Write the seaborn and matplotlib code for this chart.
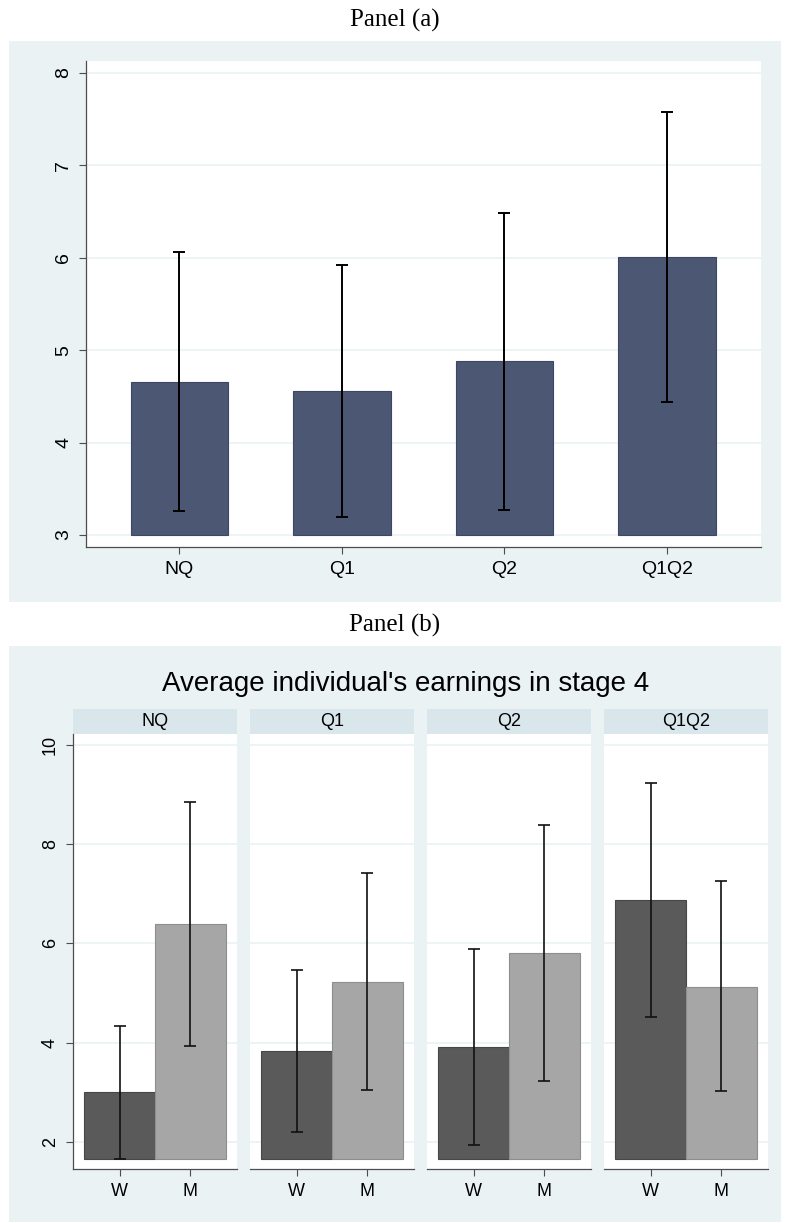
import numpy as np
import pandas as pd
import matplotlib
matplotlib.use("Agg")
import matplotlib.pyplot as plt
from matplotlib.patches import Rectangle
import seaborn as sns

# panel (a): overall average by treatment
cats_a = ["NQ", "Q1", "Q2", "Q1Q2"]
mean_a = [4.66, 4.56, 4.88, 6.01]
lo_a = [3.26, 3.20, 3.27, 4.44]
hi_a = [6.06, 5.92, 6.48, 7.58]

# panel (b): by treatment and gender
treats = ["NQ", "Q1", "Q2", "Q1Q2"]
genders = ["W", "M"]
mean_w = [3.00, 3.84, 3.92, 6.87]
lo_w = [1.66, 2.21, 1.93, 4.51]
hi_w = [4.33, 5.46, 5.88, 9.23]
mean_m = [6.39, 5.23, 5.80, 5.13]
lo_m = [3.94, 3.05, 3.22, 3.02]
hi_m = [8.85, 7.41, 8.38, 7.25]

W, H = 785, 1223
BG = "#EAF2F3"
STRIP = "#D9E6EB"
SPINE = "#4d4d4d"

sns.set_style("white")
plt.rcParams["font.family"] = ["Liberation Sans", "DejaVu Sans"]
plt.rcParams["text.color"] = "black"
plt.rcParams["xtick.labelcolor"] = "black"
plt.rcParams["ytick.labelcolor"] = "black"

fig = plt.figure(figsize=(W / 100, H / 100), dpi=100)
fig.patch.set_facecolor("white")


def px_axes(x0, y0, x1, y1):
    return [x0 / W, 1 - y1 / H, (x1 - x0) / W, (y1 - y0) / H]


def px_rect(x0, y0, x1, y1, color):
    fig.patches.append(Rectangle((x0 / W, 1 - y1 / H), (x1 - x0) / W, (y1 - y0) / H,
                                 transform=fig.transFigure, facecolor=color,
                                 edgecolor="none", zorder=-5))


def style_ax(ax, yticks, ylim, xlim, show_y=True, fs=13):
    ax.set_zorder(3)
    ax.set_ylim(*ylim)
    ax.set_xlim(*xlim)
    ax.set_yticks(yticks)
    ax.yaxis.grid(True, color=BG, lw=1.2)
    ax.set_axisbelow(True)
    for s in ["top", "right"]:
        ax.spines[s].set_visible(False)
    ax.spines["bottom"].set_color(SPINE)
    ax.spines["bottom"].set_linewidth(0.9)
    ax.tick_params(axis="x", direction="out", length=5, width=0.8, color=SPINE,
                   labelsize=fs, pad=5, bottom=True)
    if show_y:
        ax.spines["left"].set_color(SPINE)
        ax.spines["left"].set_linewidth(0.9)
        ax.tick_params(axis="y", direction="out", length=5, width=0.8, color=SPINE,
                       labelsize=fs, pad=5, left=True)
        for t in ax.get_yticklabels():
            t.set_rotation(90)
            t.set_va("center")
    else:
        ax.spines["left"].set_visible(False)
        ax.tick_params(axis="y", left=False, labelleft=False)
    ax.set_xlabel("")
    ax.set_ylabel("")


def rebase(ax, base):
    for p in ax.patches:
        h = p.get_height()
        p.set_y(base)
        p.set_height(h - base)


# ---------------- Panel (a) ----------------
px_rect(9, 41, 781, 602, BG)
fig.text(395 / W, 1 - 20 / H, "Panel (a)", ha="center", va="center",
         fontsize=18, family=["Liberation Serif", "DejaVu Serif"])

df_a = pd.DataFrame({"cat": cats_a, "mean": mean_a})
ax = fig.add_axes(px_axes(86, 61, 761, 547))
ax.set_facecolor("white")
sns.barplot(data=df_a, x="cat", y="mean", color="#4B5773", saturation=1,
            width=0.6, errorbar=None, edgecolor="#3c4763", linewidth=0.8, ax=ax)
rebase(ax, 3)
xa = np.arange(len(cats_a))
ma = np.array(mean_a)
ax.errorbar(xa, ma, yerr=[ma - np.array(lo_a), np.array(hi_a) - ma], fmt="none",
            ecolor="black", elinewidth=1.4, capsize=4, capthick=1.4, zorder=5)
style_ax(ax, range(3, 9), (2.87, 8.13), (-0.575, 3.58), fs=14)

# ---------------- Panel (b) ----------------
px_rect(9, 646, 781, 1222, BG)
fig.text(395 / W, 1 - 625 / H, "Panel (b)", ha="center", va="center",
         fontsize=18, family=["Liberation Serif", "DejaVu Serif"])
fig.text(406 / W, 1 - 684 / H, "Average individual's earnings in stage 4",
         ha="center", va="center", fontsize=20)

base_b = min(lo_w + lo_m)
for i, t in enumerate(treats):
    x0 = 73 + i * 177
    x1 = x0 + 164
    px_rect(x0, 709, x1, 734, STRIP)
    fig.text((x0 + x1) / 2 / W, 1 - 721.5 / H, t, ha="center", va="center", fontsize=13)
    df_b = pd.DataFrame({"gender": genders, "mean": [mean_w[i], mean_m[i]]})
    ax = fig.add_axes(px_axes(x0, 734, x1, 1169))
    ax.set_facecolor("white")
    sns.barplot(data=df_b, x="gender", y="mean", hue="gender",
                palette=["#5A5A5A", "#A6A6A6"], saturation=1, width=1.0,
                errorbar=None, legend=False, linewidth=0.8, ax=ax)
    for p, ec in zip(ax.patches, ["#474747", "#8e8e8e"]):
        p.set_edgecolor(ec)
    rebase(ax, base_b)
    m = np.array([mean_w[i], mean_m[i]])
    lo = np.array([lo_w[i], lo_m[i]])
    hi = np.array([hi_w[i], hi_m[i]])
    ax.errorbar(np.arange(2), m, yerr=[m - lo, hi - m], fmt="none", ecolor="#111111",
                elinewidth=1.2, capsize=4, capthick=1.2, zorder=5)
    style_ax(ax, [2, 4, 6, 8, 10], (1.456, 10.215), (-0.655, 1.655),
             show_y=(i == 0), fs=13)

fig.savefig("out.png", dpi=100, facecolor="white")
